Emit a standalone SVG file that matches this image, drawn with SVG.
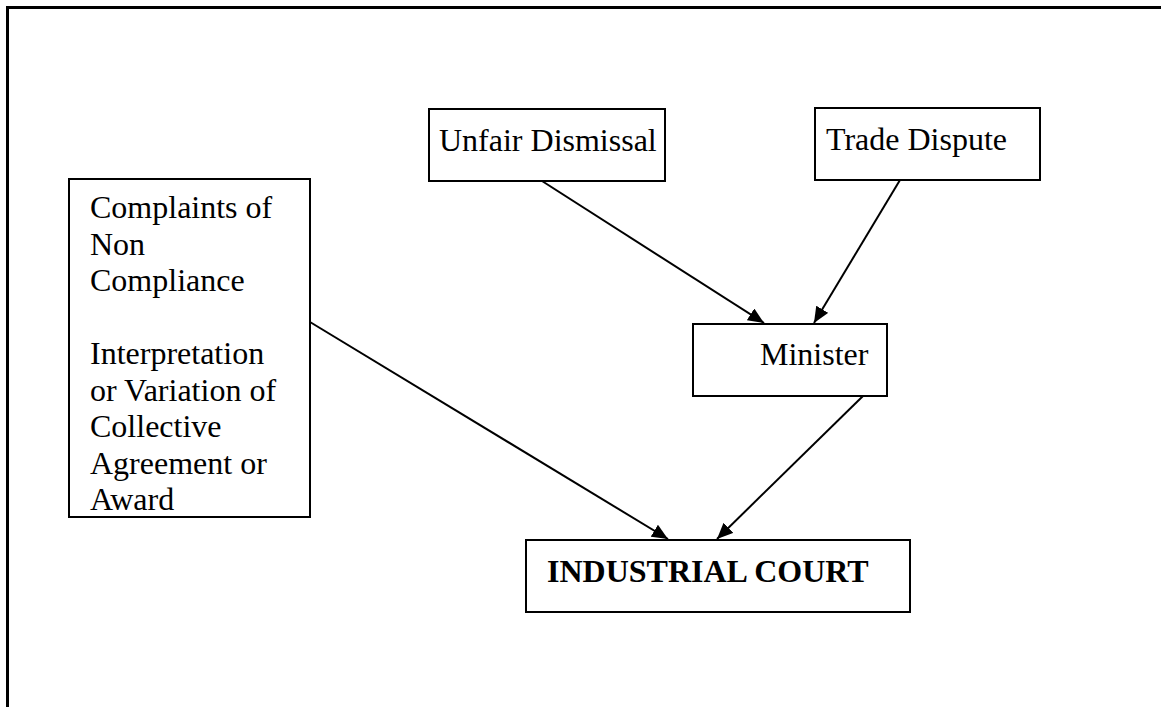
<svg xmlns="http://www.w3.org/2000/svg" width="1161" height="707" viewBox="0 0 1161 707">
  <style>
    .box { fill: #ffffff; stroke: #000000; stroke-width: 2; }
    .lbl { font-family: "Liberation Serif", "Times New Roman", serif; font-size: 32px; fill: #000000; }
    .court { font-family: "Liberation Serif", "Times New Roman", serif; font-size: 32px; font-weight: bold; fill: #000000; }
    .link { stroke: #000000; stroke-width: 2; fill: none; marker-end: url(#head); }
  </style>
  <defs>
    <marker id="head" markerUnits="userSpaceOnUse" markerWidth="17" markerHeight="14" refX="16" refY="7" orient="auto">
      <path d="M0,0 L16,7 L0,14 z" fill="#000000"/>
    </marker>
  </defs>

  <rect width="1161" height="707" fill="#ffffff"/>

  <!-- page frame: left and top rules -->
  <path d="M7.5,707 V7.5 H1161" fill="none" stroke="#000000" stroke-width="3"/>

  <g id="unfair-dismissal">
    <rect class="box" x="429" y="109" width="236" height="72"/>
    <text class="lbl" x="439" y="151">Unfair Dismissal</text>
  </g>

  <g id="trade-dispute">
    <rect class="box" x="815" y="108" width="225" height="72"/>
    <text class="lbl" x="826" y="150">Trade Dispute</text>
  </g>

  <g id="complaints">
    <rect class="box" x="69" y="179" width="241" height="338"/>
    <text class="lbl" x="90">
      <tspan x="90" y="218">Complaints of</tspan>
      <tspan x="90" y="254.5">Non</tspan>
      <tspan x="90" y="291">Compliance</tspan>
      <tspan x="90" y="364">Interpretation</tspan>
      <tspan x="90" y="400.5">or Variation of</tspan>
      <tspan x="90" y="437">Collective</tspan>
      <tspan x="90" y="473.5">Agreement or</tspan>
      <tspan x="90" y="510">Award</tspan>
    </text>
  </g>

  <g id="minister">
    <rect class="box" x="693" y="324" width="194" height="72"/>
    <text class="lbl" x="760" y="365">Minister</text>
  </g>

  <g id="industrial-court">
    <rect class="box" x="526" y="540" width="384" height="72"/>
    <text class="court" x="547" y="582">INDUSTRIAL COURT</text>
  </g>

  <g id="connectors">
    <line class="link" x1="542" y1="181" x2="764" y2="323"/>
    <line class="link" x1="900" y1="180" x2="814" y2="323"/>
    <line class="link" x1="863" y1="396" x2="717" y2="539"/>
    <line class="link" x1="310" y1="322" x2="668" y2="539"/>
  </g>
</svg>
